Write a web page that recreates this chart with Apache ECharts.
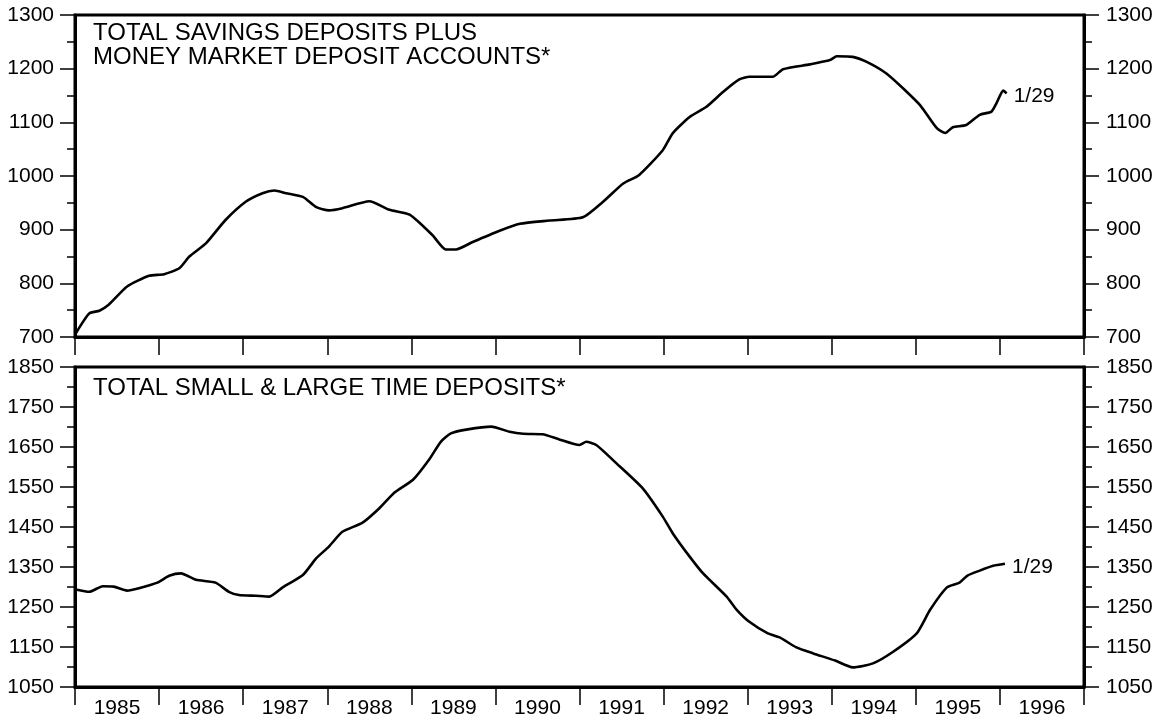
<!DOCTYPE html>
<html>
<head>
<meta charset="utf-8">
<script src="https://cdn.jsdelivr.net/npm/echarts@6/dist/echarts.min.js"></script>
<style>
html,body{margin:0;padding:0;background:#fff;}
#chart{width:1156px;height:719px;}
</style>
</head>
<body>
<div id="chart"></div>
<script>
// ---- data ----
var yearLabels = ['1985','1986','1987','1988','1989','1990','1991','1992','1993','1994','1995','1996'];

var savDates = [1985.01,1985.17,1985.29,1985.40,1985.62,1985.88,1986.06,1986.24,1986.36,1986.56,1986.79,1987.03,1987.23,1987.37,1987.51,1987.71,1987.87,1988.02,1988.18,1988.50,1988.74,1988.98,1989.25,1989.41,1989.53,1989.73,1990.05,1990.29,1990.64,1991.04,1991.28,1991.52,1991.71,1991.99,1992.11,1992.31,1992.51,1992.71,1992.90,1993.02,1993.30,1993.42,1993.74,1993.98,1994.06,1994.25,1994.41,1994.65,1994.85,1995.05,1995.25,1995.35,1995.44,1995.60,1995.76,1995.90,1995.96,1996.04,1996.08];
var savValues = [707,744,749,760,794,814,817,828,850,875,918,952,968,973,968,961,942,936,940,953,937,928,890,863,863,877,898,911,917,923,952,986,1002,1048,1080,1110,1129,1157,1180,1185,1185,1199,1208,1216,1223,1222,1213,1191,1163,1132,1089,1080,1091,1095,1114,1120,1136,1159,1154];

var timeDates = [1985.01,1985.17,1985.33,1985.46,1985.62,1985.76,1985.98,1986.12,1986.26,1986.44,1986.67,1986.83,1986.95,1987.15,1987.31,1987.47,1987.71,1987.87,1988.02,1988.18,1988.42,1988.62,1988.80,1989.02,1989.21,1989.35,1989.47,1989.67,1989.95,1990.17,1990.33,1990.56,1990.76,1991.00,1991.08,1991.20,1991.44,1991.75,1991.99,1992.11,1992.31,1992.47,1992.75,1992.87,1993.02,1993.24,1993.38,1993.58,1993.78,1994.04,1994.25,1994.49,1994.73,1995.01,1995.17,1995.37,1995.52,1995.61,1995.76,1995.92,1996.06];
var timeValues = [1294,1288,1302,1301,1291,1297,1311,1328,1334,1318,1311,1288,1280,1278,1276,1299,1330,1372,1401,1438,1461,1497,1536,1568,1618,1663,1684,1694,1701,1688,1683,1682,1669,1655,1663,1655,1609,1547,1476,1434,1376,1334,1276,1243,1213,1184,1174,1149,1134,1116,1099,1109,1138,1184,1243,1299,1311,1328,1341,1353,1358];

var topTitle = 'TOTAL SAVINGS DEPOSITS PLUS\nMONEY MARKET DEPOSIT ACCOUNTS*';
var bottomTitle = 'TOTAL SMALL & LARGE TIME DEPOSITS*';
var endText = '1/29';

function zip(a, b) { return a.map(function (v, i) { return [v, b[i]]; }); }

var FONT = '"Liberation Sans", Arial, Helvetica, sans-serif';
var LBL = 21;

function catAxis(gridIndex, showLabels) {
  return {
    type: 'category', gridIndex: gridIndex, data: yearLabels, boundaryGap: true, position: 'bottom',
    axisLine: { show: true, lineStyle: { color: '#000', width: 3 } },
    axisTick: { show: true, inside: false, length: 18, alignWithLabel: false, lineStyle: { color: '#000', width: 1.5 } },
    axisLabel: { show: showLabels, color: '#000', fontSize: LBL, fontFamily: FONT, margin: 11, interval: 0 },
    splitLine: { show: false }
  };
}
function valXAxis(gridIndex) {
  return { type: 'value', gridIndex: gridIndex, min: 1985, max: 1997, show: false, splitLine: { show: false } };
}
function yAxis(gridIndex, pos, min, max) {
  return {
    type: 'value', gridIndex: gridIndex, position: pos, min: min, max: max, interval: 100,
    axisLine: { show: true, lineStyle: { color: '#000', width: 3 } },
    axisTick: { show: true, inside: false, length: 15, lineStyle: { color: '#000', width: 1.5 } },
    minorTick: { show: true, splitNumber: 2, length: 8, lineStyle: { color: '#000', width: 1.5 } },
    axisLabel: { show: true, color: '#000', fontSize: LBL, fontFamily: FONT, margin: pos === 'left' ? 21 : 22,
      formatter: function (v) { return String(v); } },
    splitLine: { show: false }, minorSplitLine: { show: false }
  };
}

var chart = echarts.init(document.getElementById('chart'), null, { renderer: 'canvas' });
chart.setOption({
  animation: false,
  backgroundColor: '#fff',
  grid: [
    { left: 75, width: 1009, top: 15, height: 322, show: true, borderColor: '#000', borderWidth: 3, backgroundColor: 'transparent' },
    { left: 75, width: 1009, top: 367, height: 320, show: true, borderColor: '#000', borderWidth: 3, backgroundColor: 'transparent' }
  ],
  xAxis: [catAxis(0, false), valXAxis(0), catAxis(1, true), valXAxis(1)],
  yAxis: [yAxis(0, 'left', 700, 1300), yAxis(0, 'right', 700, 1300), yAxis(1, 'left', 1050, 1850), yAxis(1, 'right', 1050, 1850)],
  graphic: [
    { type: 'text', x: 93, y: 21, style: { text: topTitle, font: '24px ' + FONT, fill: '#000', lineHeight: 24, verticalAlign: 'top' } },
    { type: 'text', x: 93, y: 376, style: { text: bottomTitle, font: '24px ' + FONT, fill: '#000', lineHeight: 24, verticalAlign: 'top' } }
  ],
  series: [
    {
      type: 'line', xAxisIndex: 1, yAxisIndex: 0, data: zip(savDates, savValues), showSymbol: false, smooth: 0.2,
      lineStyle: { color: '#000', width: 2.6 }, itemStyle: { color: '#000' },
      endLabel: { show: true, formatter: endText, color: '#000', fontSize: LBL, fontFamily: FONT, distance: 7, offset: [0, 3] }
    },
    {
      type: 'line', xAxisIndex: 3, yAxisIndex: 2, data: zip(timeDates, timeValues), showSymbol: false, smooth: 0.2,
      lineStyle: { color: '#000', width: 2.6 }, itemStyle: { color: '#000' },
      endLabel: { show: true, formatter: endText, color: '#000', fontSize: LBL, fontFamily: FONT, distance: 7, offset: [0, 3] }
    }
  ]
});
</script>
</body>
</html>
